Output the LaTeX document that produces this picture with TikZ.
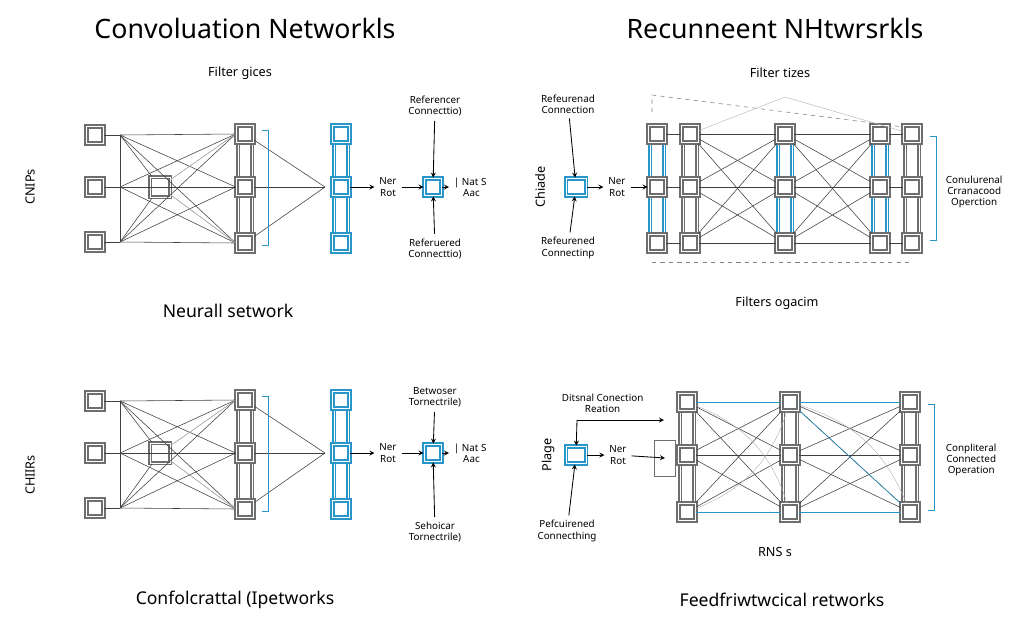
\documentclass[tikz,border=0pt]{standalone}
\usepackage{fontspec}
\setmainfont{Noto Sans}
\usetikzlibrary{arrows,positioning}
\definecolor{cblue}{RGB}{40,150,200}
\definecolor{cgray}{RGB}{110,110,110}
\tikzset
{
    nbox/.style   = {rectangle, draw=cgray, line width=1.4pt, double=white, double distance=0.7pt, fill=white, minimum size=0.42cm, inner sep=0pt},
    bbox/.style   = {nbox, draw=cblue},
    big/.style    = {nbox, minimum size=0.5cm},
    small/.style  = {font=\fontsize{7}{8}\selectfont, align=center},
    mid/.style    = {font=\fontsize{9}{10}\selectfont, align=center},
    title/.style  = {font=\fontsize{19}{22}\selectfont},
    sub/.style    = {font=\fontsize{12.5}{14}\selectfont},
    wire/.style   = {black!75, line width=0.4pt},
    thin/.style   = {gray!60, line width=0.3pt},
    arrow/.style  = {semithick, ->, >=stealth}
}
\begin{document}
\begin{tikzpicture}[x=0.025cm,y=-0.025cm]
\useasboundingbox (0,0) rectangle (1024,640);
% ---------- left panels ----------
\foreach \p/\dy in {a/0,b/266}{
  \begin{scope}[yshift=-\dy*0.025cm]
  \foreach \r/\y in {1/135,2/187,3/242}{
    \node(\p in\r) [nbox] at (95,\y) {};
    \coordinate(\p k\r) at (120,\y);
  }
  \draw[cgray, double=white, line width=0.8pt] (238,128) rectangle (252,249);
  \draw[cblue, double=white, line width=0.8pt] (334,128) rectangle (348,249);
  \foreach \r/\y in {1/134,2/187,3/243}{
    \node(\p h\r) [nbox] at (245,\y) {};
    \node(\p o\r) [bbox] at (341,\y) {};
  }
  \node(\p c) [big] at (160,187) {};
  \coordinate(\p f) at (325,187);
  \foreach \r in {1,2,3}{
    \draw[wire] (\p in\r) -- (\p k\r);
    \foreach \s in {1,2,3}{
      \draw[wire] (\p k\r) -- (\p h\s.west);
      \draw[thin] (\p c) -- (\p h\s.west);
    }
    \draw[wire] (\p h\r) -- (\p f);
    \draw[wire] (\p k\r) -- (\p c);
  }
  \draw[wire] (\p k1) -- (\p k3);
  \draw[wire] (\p c) -- (\p h2);
  \draw[cblue] (262,130) -- (268,130) -- (268,245) -- (262,245);
  \node(\p box) [bbox] at (433,187) {};
  \node(\p net) [small] at (388,187) {Ner\\Rot};
  \node(\p nat) [small, anchor=west] at (449,187) {| Nat S\\\ Aac};
  \draw[arrow] (\p o2) -- (\p net);
  \draw[arrow] (\p net) -- (\p box);
  \draw[arrow] (\p box) -- (\p nat);
  \end{scope}
}
\node(ttl) [title] at (245,28) {Convoluation Networkls};
\node(fga) [mid] at (240,73) {Filter gices};
\node(cnp) [mid, rotate=90] at (30,187) {CNIPs};
\node(rua) [small] at (435,106) {Referencer\\Connecttio)};
\node(rub) [small] at (435,249) {Referuered\\Connecttio)};
\draw[arrow] (rua) -- (abox);
\draw[arrow] (rub) -- (abox);
\node(nsw) [sub] at (228,311) {Neurall setwork};
\node(chi) [mid, rotate=90] at (30,475) {CHIIRs};
\node(bwa) [small] at (435,397) {Betwoser\\Tornectrile)};
\node(bwb) [small] at (435,532) {Sehoicar\\Tornectrile)};
\draw[arrow] (bwa) -- (bbox);
\draw[arrow] (bwb) -- (bbox);
\node(cfn) [sub] at (235,600) {Confolcrattal (Ipetworks};
% ---------- top right ----------
\node(ttr) [title] at (775,28) {Recunneent NHtwrsrkls};
\node(ftz) [mid] at (780,73) {Filter tizes};
\node(rin) [bbox, minimum width=0.5cm] at (576,187) {};
\node(rfa) [small] at (568,104) {Refeurenad\\Connection};
\node(rfb) [small] at (568,248) {Refeurened\\Connectinp};
\node(chd) [mid, rotate=90] at (540,187) {Chiade};
\node(rnr) [small] at (617,187) {Ner\\Rot};
\draw[arrow] (rfa) -- (rin);
\draw[arrow] (rfb) -- (rin);
\draw[arrow] (rin) -- (rnr);
\draw[dashed, gray] (652,112) -- (652,95) -- (912,128);
\draw[dashed, gray] (652,262) -- (912,262);
\foreach \c/\x/\col in {1/657/cblue,2/690/cgray,3/785/cblue,4/880/cblue,5/912/cgray}{
  \draw[\col, double=white, line width=0.8pt] (\x-7,128) rectangle (\x+7,249);
  \foreach \r/\y in {1/134,2/187,3/243}{
    \node(t\c\r) [nbox] at (\x,\y) {};
  }
}
\draw[arrow] (rnr) -- (t12);
\foreach \a/\b in {1/2,4/5}{
  \foreach \r in {1,2,3}{ \draw[wire] (t\a\r) -- (t\b\r); }
}
\foreach \r in {1,2,3}{
  \foreach \s in {1,2,3}{
    \draw[wire] (t2\r) -- (t3\s);
    \draw[wire] (t3\r) -- (t4\s);
  }
}
\coordinate(tpk) at (785,97);
\draw[thin] (t21) -- (tpk) -- (t51);
\draw[cblue] (930,136) -- (936,136) -- (936,240) -- (930,240);
\node(cco) [small, anchor=west] at (941,192) {Conulurenal\\Crranacood\\Operction};
\node(fog) [mid] at (777,303) {Filters ogacim};
% ---------- bottom right ----------
\node(pin) [bbox, minimum width=0.5cm] at (576,455) {};
\node(dcn) [small, anchor=west] at (557,403) {Ditsnal Conection\\Reation};
\node(pfc) [small] at (567,531) {Pefcuirened\\Connecthing};
\node(plg) [mid, rotate=90] at (548,455) {Plage};
\node(pnr) [small] at (618,455) {Ner\\Rot};
\node(gate) [draw=cgray, minimum width=0.52cm, minimum height=0.9cm, inner sep=0pt] at (665,458) {};
\draw[arrow] (pin) -- (pnr);
\draw[arrow] (pnr) -- (gate.center);
\draw[arrow] (pfc) -- (pin);
\coordinate(dcl) at (577,420);
\coordinate(dce) at (664,420);
\draw[arrow] (dcl) -- (pin);
\draw[arrow] (dcl) -- (dce);
\foreach \c/\x in {1/687,2/790,3/910}{
  \draw[cgray, double=white, line width=0.8pt] (\x-7,396) rectangle (\x+7,519);
  \foreach \r/\y in {1/402,2/455,3/512}{
    \node(u\c\r) [nbox] at (\x,\y) {};
  }
}
\foreach \r in {1,2,3}{
  \foreach \s in {1,2,3}{
    \draw[wire] (u1\r) -- (u2\s);
    \draw[wire] (u2\r) -- (u3\s);
  }
}
\draw[cblue] (u11) -- (u21) -- (u31);
\draw[cblue] (u13) -- (u23) -- (u33);
\draw[cblue] (u21) -- (u33);
\draw[thin] (u11) to[bend left=25] (u23);
\draw[thin] (u13) to[bend right=25] (u21);
\draw[thin] (u21) to[bend left=25] (u33);
\draw[cblue] (928,404) -- (934,404) -- (934,510) -- (928,510);
\node(cpc) [small, anchor=west] at (941,460) {Conpliteral\\Connected\\Operation};
\node(rns) [mid] at (775,552) {RNS s};
\node(ffn) [sub] at (782,600) {Feedfriwtwcical retworks};
\end{tikzpicture}
\end{document}
